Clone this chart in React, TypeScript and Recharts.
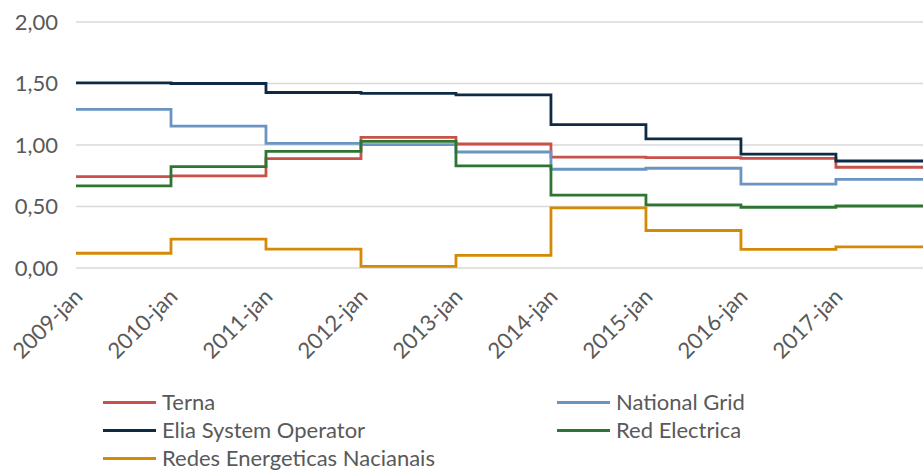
import React from 'react';
import { LineChart, Line, XAxis, YAxis, CartesianGrid, Legend } from 'recharts';

// months counted from 2009-jan; last point closes the step at 2017-dec
const months = [0, 12, 24, 36, 48, 60, 72, 84, 96, 107];
const tickLabels = ['2009-jan', '2010-jan', '2011-jan', '2012-jan', '2013-jan', '2014-jan', '2015-jan', '2016-jan', '2017-jan'];

const terna = [0.743, 0.749, 0.89, 1.062, 1.008, 0.902, 0.897, 0.892, 0.819, 0.819];
const nationalGrid = [1.29, 1.154, 1.014, 1.003, 0.943, 0.803, 0.811, 0.682, 0.72, 0.72];
const elia = [1.505, 1.5, 1.427, 1.42, 1.408, 1.166, 1.049, 0.926, 0.87, 0.87];
const redElectrica = [0.667, 0.824, 0.948, 1.03, 0.83, 0.593, 0.513, 0.494, 0.504, 0.504];
const ren = [0.12, 0.235, 0.154, 0.013, 0.102, 0.489, 0.305, 0.151, 0.171, 0.171];

const series = [
  { key: 'terna', name: 'Terna', color: '#C8524B', values: terna },
  { key: 'ng', name: 'National Grid', color: '#6A95C3', values: nationalGrid },
  { key: 'elia', name: 'Elia System Operator', color: '#0D2B45', values: elia },
  { key: 'red', name: 'Red Electrica', color: '#2E7532', values: redElectrica },
  { key: 'ren', name: 'Redes Energeticas Nacianais', color: '#D58A05', values: ren },
];

const data = months.map((m, i) => {
  const row: Record<string, number> = { month: m };
  series.forEach(s => {
    row[s.key] = s.values[i];
  });
  return row;
});

const FONT = 'Lato, "Open Sans", sans-serif';
const TEXT = '#595959';

const XTick = (props: any) => {
  const { x, y, payload } = props;
  const ax = x + 8;
  const ay = y + 30;
  const label = tickLabels[Math.round(payload.value / 12)];
  return (
    <text
      x={ax}
      y={ay}
      transform={`rotate(-45, ${ax}, ${ay})`}
      textAnchor="end"
      fill={TEXT}
      fontSize={22}
      fontFamily={FONT}
    >
      {label}
    </text>
  );
};

const LegendBox = () => (
  <div
    style={{
      height: 82,
      position: 'relative',
      fontFamily: FONT,
      fontSize: 22,
      color: TEXT,
    }}
  >
    {series.map((s, i) => {
      const col = i % 2;
      const row = Math.floor(i / 2);
      return (
        <div
          key={s.key}
          style={{
            position: 'absolute',
            left: col === 0 ? 103 : 557,
            top: row * 28,
            height: 28,
            lineHeight: '28px',
            display: 'flex',
            alignItems: 'center',
            whiteSpace: 'nowrap',
          }}
        >
          <span style={{ display: 'inline-block', width: 53, height: 3, background: s.color, marginRight: 6 }} />
          <span>{s.name}</span>
        </div>
      );
    })}
  </div>
);

export default function App() {
  return (
    <div style={{ position: 'absolute', left: 0, top: 0, width: 923, height: 470, background: '#fff' }}>
      <LineChart width={923} height={470} data={data} margin={{ top: 22, right: 0, bottom: 0, left: 0 }}>
        <CartesianGrid vertical={false} stroke="#D9D9D9" strokeWidth={1.4} />
        <XAxis
          dataKey="month"
          type="number"
          domain={[0, 107]}
          ticks={[0, 12, 24, 36, 48, 60, 72, 84, 96]}
          axisLine={false}
          tickLine={false}
          tickSize={0}
          tickMargin={0}
          height={120}
          interval={0}
          tick={<XTick />}
        />
        <YAxis
          domain={[0, 2]}
          ticks={[0, 0.5, 1, 1.5, 2]}
          width={76}
          axisLine={false}
          tickLine={false}
          tickSize={0}
          tickMargin={18}
          tickFormatter={(v: number) => v.toFixed(2).replace('.', ',')}
          tick={{ fill: TEXT, fontSize: 22, fontFamily: FONT }}
        />
        <Legend verticalAlign="bottom" content={<LegendBox />} wrapperStyle={{ left: 0, width: 923 }} />
        {series.map(s => (
          <Line
            key={s.key}
            type="stepAfter"
            dataKey={s.key}
            name={s.name}
            stroke={s.color}
            strokeWidth={2.8}
            dot={false}
            activeDot={false}
            isAnimationActive={false}
          />
        ))}
      </LineChart>
    </div>
  );
}
